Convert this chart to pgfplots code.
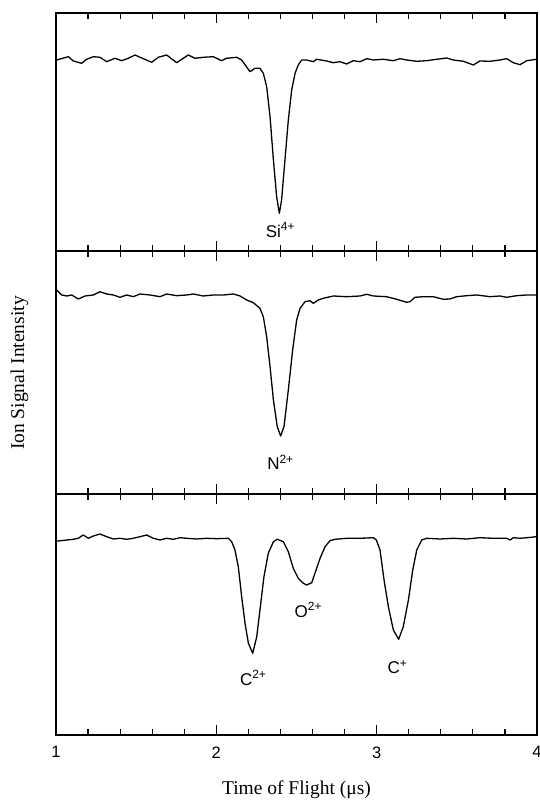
\documentclass[border=0pt]{standalone}
\usepackage{pgfplots}
\pgfplotsset{compat=1.18}
\usepackage{fontspec}
\setmainfont{Liberation Sans}
\newfontfamily\serif{Liberation Serif}
\tikzset{lab/.style={font=\fontsize{17}{17}\selectfont}}
\begin{document}
\begin{tikzpicture}
\useasboundingbox (-56pt,-67pt) rectangle (483pt,735pt);
\pgfplotsset{
  panel/.style={
    scale only axis, width=481pt,
    xmin=1, xmax=4, xtick={1,2,3,4}, minor x tick num=4,
    ytick=\empty,
    tick align=inside,
    major tick length=10pt, minor tick length=6pt,
    axis line style={line width=1.5pt},
    every tick/.style={line width=1.2pt, black},
    every minor tick/.style={line width=1.2pt, black},
    tick label style={font=\fontsize{16.5}{16.5}\selectfont},
    /pgf/number format/assume math mode=true,
    xticklabel style={yshift=-8pt},
  },
  trace/.style={black, line width=1.3pt, no markers, line join=round},
}
% bottom panel
\begin{axis}[panel, name=bot, at={(0pt,0pt)}, anchor=south west, height=241pt, ymin=0, ymax=241]
\addplot[trace] coordinates {
(1.004,194)(1.015,194)(1.067,195)(1.108,195.7)(1.139,196.7)(1.170,200)(1.202,196.7)(1.233,199)(1.274,201)(1.316,198.3)(1.358,196)(1.399,196.7)(1.441,195.7)(1.482,196.7)(1.524,198.3)(1.565,200)(1.607,196.7)(1.649,195)(1.690,196.7)(1.732,195.7)(1.773,197.3)(1.815,196.7)(1.877,196)(1.940,196.7)(2.002,196.3)(2.075,196.7)(2.096,193.3)(2.116,185)(2.137,168.3)(2.158,138.3)(2.179,111.7)(2.200,91.7)(2.227,81.7)(2.252,98.3)(2.272,125)(2.297,158.3)(2.324,181.7)(2.356,193.3)(2.380,195.7)(2.418,193.3)(2.449,183.3)(2.480,166.7)(2.511,156.7)(2.543,151.7)(2.563,150)(2.595,152.3)(2.615,161.7)(2.647,176.7)(2.678,188.3)(2.709,194.3)(2.740,195.7)(2.813,196.7)(2.896,196.7)(2.979,197.3)(2.998,195)(3.021,185)(3.046,155)(3.073,128.3)(3.104,105)(3.137,95.7)(3.166,108.3)(3.198,135)(3.225,165)(3.250,185)(3.281,195)(3.312,196.7)(3.395,196)(3.478,196.7)(3.561,196)(3.644,197.3)(3.728,196.7)(3.811,196.7)(3.832,195)(3.852,197.3)(3.894,196.7)(3.936,197.3)(3.998,198.3)
};
\node[lab] at (axis cs:2.23,57) {C\textsuperscript{2+}};
\node[lab] at (axis cs:2.574,125) {O\textsuperscript{2+}};
\node[lab] at (axis cs:3.13,68) {C\textsuperscript{+}};
\end{axis}
% middle panel
\begin{axis}[panel, name=mid, at={(0pt,241pt)}, anchor=south west, height=243pt, ymin=0, ymax=243, xticklabels={}]
\addplot[trace] coordinates {
(1.004,204)(1.035,199)(1.067,198)(1.098,199)(1.139,195)(1.181,198)(1.233,199)(1.274,202.3)(1.316,200)(1.358,199)(1.399,196.7)(1.441,199)(1.482,197.3)(1.524,200)(1.586,199)(1.649,197.3)(1.690,200)(1.753,198.3)(1.815,199)(1.857,200)(1.919,198)(1.981,199)(2.044,199)(2.106,200)(2.148,198)(2.189,194)(2.231,191.3)(2.272,185.7)(2.293,177.3)(2.314,157.3)(2.335,127.3)(2.356,94)(2.380,67.3)(2.401,58)(2.422,67.3)(2.449,104)(2.476,144)(2.501,174)(2.522,185.7)(2.553,192.3)(2.584,193.3)(2.605,190.7)(2.636,194)(2.667,195.7)(2.730,198)(2.813,197.3)(2.896,198)(2.938,199.7)(2.979,198)(3.062,197.3)(3.125,194.7)(3.187,191.7)(3.208,192.3)(3.239,196.7)(3.291,197.3)(3.353,197.3)(3.416,194.7)(3.457,195)(3.499,197.3)(3.561,198.3)(3.624,199)(3.707,197.3)(3.769,198)(3.811,196.7)(3.873,198.3)(3.936,199)(3.998,199)
};
\node[lab] at (axis cs:2.40,32) {N\textsuperscript{2+}};
\end{axis}
% top panel
\begin{axis}[panel, name=top, at={(0pt,484pt)}, anchor=south west, height=238pt, ymin=-1, ymax=237, xticklabels={}]
\addplot[trace] coordinates {
(1.004,190)(1.077,193.3)(1.108,189)(1.160,186.7)(1.191,190.7)(1.233,193.3)(1.274,192.7)(1.316,188.3)(1.368,191.7)(1.410,189.3)(1.451,191.7)(1.493,195)(1.524,192.7)(1.597,187.7)(1.638,192.7)(1.690,195)(1.753,187.3)(1.825,195)(1.867,191.7)(1.919,192.7)(1.981,193.3)(2.033,189.3)(2.064,191.7)(2.127,192.7)(2.158,190)(2.210,178.3)(2.241,181.7)(2.272,181.7)(2.293,176.7)(2.314,163.3)(2.335,133.3)(2.356,90)(2.376,53.3)(2.393,36.7)(2.407,50)(2.428,90)(2.449,130)(2.470,160)(2.491,176.7)(2.511,185)(2.532,190)(2.563,190)(2.605,188.3)(2.626,190.7)(2.688,189)(2.730,187.3)(2.771,188.3)(2.813,186)(2.854,189.3)(2.896,188.3)(2.938,191.3)(2.979,190)(3.042,190.7)(3.104,189.3)(3.146,191.3)(3.187,190)(3.249,188.7)(3.312,189.3)(3.374,190.7)(3.437,192)(3.478,190)(3.541,188.7)(3.603,185)(3.644,189)(3.707,188.7)(3.769,190)(3.811,191.3)(3.852,187.3)(3.894,185.3)(3.936,189.3)(3.998,190.7)
};
\node[lab] at (axis cs:2.40,20) {Si\textsuperscript{4+}};
\end{axis}
\node[rotate=90, font=\serif\fontsize{19.5}{19.5}\selectfont] at (-36.5pt,362pt) {Ion Signal Intensity};
\node[font=\serif\fontsize{19.5}{19.5}\selectfont] at (240.5pt,-55pt) {Time of Flight (μs)};
\end{tikzpicture}
\end{document}
